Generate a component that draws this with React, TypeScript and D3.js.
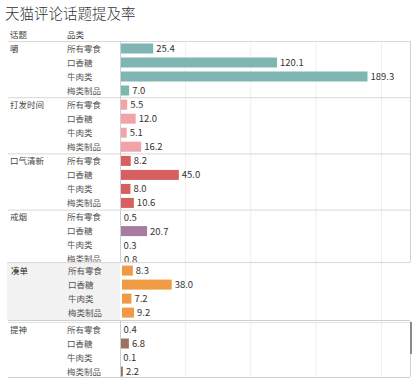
import React from 'react';
import * as d3 from 'd3';

const topics = ['嚼', '打发时间', '口气清新', '戒烟', '凑单', '提神'];
const categories = ['所有零食', '口香糖', '牛肉类', '梅类制品'];
const chew = [25.4, 120.1, 189.3, 7.0];
const killTime = [5.5, 12.0, 5.1, 16.2];
const freshBreath = [8.2, 45.0, 8.0, 10.6];
const quitSmoking = [0.5, 20.7, 0.3, 0.8];
const fillOrder = [8.3, 38.0, 7.2, 9.2];
const refresh = [0.4, 6.8, 0.1, 2.2];
const seriesValues = [chew, killTime, freshBreath, quitSmoking, fillOrder, refresh];
const colors = ['#80b6b2', '#f2a3a9', '#d65f5f', '#a87ba0', '#ef9a45', '#9a7461'];
const gridTicks = [50, 100, 150, 200];

const W = 413;
const H = 379;
const FONT = '"Noto Sans CJK SC", "Noto Sans", sans-serif';

export default function App() {
  const x = d3.scaleLinear().domain([0, 200]).range([120, 381.5]);
  const g = d3.scaleBand<string>().domain(topics).range([41, 41 + 56.2 * 6]);
  const r = d3.scaleBand<string>().domain(categories).range([0, 56]);
  const barH = 10;
  const hl = '凑单';
  const hlIdx = topics.indexOf(hl);
  const hlTop = g(topics[hlIdx - 1])! + 52.5;
  const hlBottom = g(topics[hlIdx + 1])! - 1;

  return (
    <svg width={W} height={H} style={{ position: 'absolute', left: 0, top: 0, background: '#fff' }} fontFamily={FONT}>
      <text x={5} y={19} fontSize={14.5} fontWeight={300} fill="#333">天猫评论话题提及率</text>
      <text x={10} y={38} fontSize={8.5} fill="#444">话题</text>
      <text x={67} y={38} fontSize={8.5} fill="#444">品类</text>
      {gridTicks.map((t) => (
        <line key={t} x1={x(t)} x2={x(t)} y1={41} y2={377} stroke="#efefef" strokeWidth={1} />
      ))}
      <line x1={8} x2={410} y1={41.5} y2={41.5} stroke="#d8d8d8" />
      {topics.map((tp, i) => {
        const isHl = tp === hl;
        const top = isHl ? hlTop + 1 : g(tp)!;
        const vals = seriesValues[i];
        const dx = isHl ? 2 : 0;
        return (
          <g key={tp}>
            {isHl && (
              <g>
                <rect x={0} y={hlTop} width={W} height={hlBottom - hlTop} fill="#fff" />
                <rect x={7} y={hlTop} width={113} height={hlBottom - hlTop} fill="#f2f2f2" />
                {gridTicks.map((t) => (
                  <line key={t} x1={x(t)} x2={x(t)} y1={hlTop} y2={hlBottom} stroke="#efefef" />
                ))}
                <line x1={7} x2={410} y1={hlTop + 0.5} y2={hlTop + 0.5} stroke="#d8d8d8" />
              </g>
            )}
            {i > 0 && !isHl && tp !== '提神' && (
              <line x1={8} x2={410} y1={top + 0.5} y2={top + 0.5} stroke="#d8d8d8" />
            )}
            {tp === '提神' && (
              <g>
                <line x1={8} x2={410} y1={top - 1.5} y2={top - 1.5} stroke="#d0d0d0" />
                <line x1={8} x2={410} y1={top + 0.5} y2={top + 0.5} stroke="#e2e2e2" />
              </g>
            )}
            <text x={10 + dx * 0.5} y={top + 7.5 + 3} fontSize={8.5} fill={isHl ? '#222' : '#444'}>{tp}</text>
            {categories.map((c, j) => {
              const cy = top + 7.5 + r(c)!;
              const v = vals[j];
              return (
                <g key={c}>
                  <text x={67 + dx * 0.5} y={cy + 3} fontSize={8.5} fill="#555">{c}</text>
                  <rect x={x(0) + dx} y={cy - barH / 2} width={Math.max(0, x(v) - x(0))} height={barH} fill={colors[i]} />
                  <text x={x(v) + dx + 3} y={cy + 3.5} fontSize={9.5} fill="#333">{v.toFixed(1)}</text>
                </g>
              );
            })}
          </g>
        );
      })}
      <line x1={120.5} x2={120.5} y1={41} y2={hlTop} stroke="#cfcfcf" />
      <line x1={120.5} x2={120.5} y1={hlBottom} y2={377} stroke="#cfcfcf" />
      <line x1={410.5} x2={410.5} y1={41} y2={hlTop} stroke="#d0d0d0" />
      <line x1={410.5} x2={410.5} y1={hlBottom} y2={377} stroke="#d0d0d0" />
      <rect x={410} y={hlBottom + 1} width={2} height={32} fill="#8a8a8a" />
      <line x1={8} x2={410} y1={377.5} y2={377.5} stroke="#d0d0d0" />
    </svg>
  );
}
